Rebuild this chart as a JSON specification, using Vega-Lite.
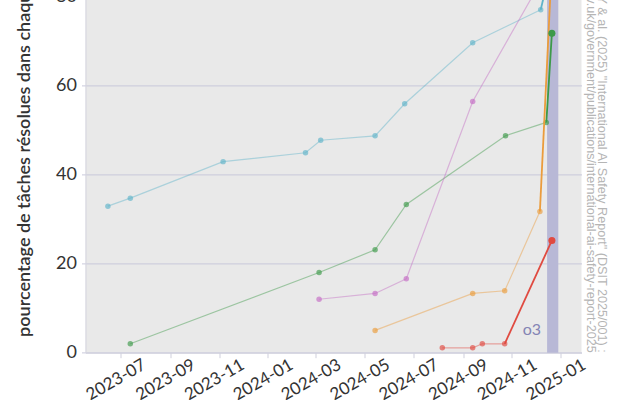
{
  "$schema": "https://vega.github.io/schema/vega-lite/v6.json",
  "width": 496,
  "height": 356.3,
  "autosize": {"type": "none"},
  "padding": {"left": 85.5, "top": -3.6, "right": 58.5, "bottom": 47.3},
  "background": "white",
  "title": {
    "text": [
      "Source : BENGIO Y & al. (2025) \"International AI Safety Report\" (DSIT 2025/001) :",
      "https://www.gov.uk/government/publications/international-ai-safety-report-2025"
    ],
    "orient": "right",
    "anchor": "end",
    "frame": "group",
    "offset": -4,
    "font": "Liberation Sans",
    "fontSize": 12.6,
    "fontWeight": "normal",
    "color": "#b5b5b5",
    "lineHeight": 11.5
  },
  "datasets": {
    "band": [{"debut": "2024-12-15", "fin": "2024-12-29"}],
    "scores": [
      {"benchmark": "GPQA Diamond", "date": "2023-06-15", "score": 32.9},
      {"benchmark": "GPQA Diamond", "date": "2023-07-13", "score": 34.7},
      {"benchmark": "GPQA Diamond", "date": "2023-11-06", "score": 42.9},
      {"benchmark": "GPQA Diamond", "date": "2024-02-17", "score": 44.9},
      {"benchmark": "GPQA Diamond", "date": "2024-03-07", "score": 47.7},
      {"benchmark": "GPQA Diamond", "date": "2024-05-14", "score": 48.7},
      {"benchmark": "GPQA Diamond", "date": "2024-06-20", "score": 55.9},
      {"benchmark": "GPQA Diamond", "date": "2024-09-13", "score": 69.6},
      {"benchmark": "GPQA Diamond", "date": "2024-12-07", "score": 77.0},
      {"benchmark": "SWE-bench Verified", "date": "2023-07-13", "score": 2.0},
      {"benchmark": "SWE-bench Verified", "date": "2024-03-05", "score": 18.0},
      {"benchmark": "SWE-bench Verified", "date": "2024-05-14", "score": 23.1},
      {"benchmark": "SWE-bench Verified", "date": "2024-06-22", "score": 33.3},
      {"benchmark": "SWE-bench Verified", "date": "2024-10-24", "score": 48.7},
      {"benchmark": "SWE-bench Verified", "date": "2024-12-14", "score": 51.7},
      {"benchmark": "AIME 2024", "date": "2024-03-05", "score": 12.0},
      {"benchmark": "AIME 2024", "date": "2024-05-14", "score": 13.3},
      {"benchmark": "AIME 2024", "date": "2024-06-22", "score": 16.6},
      {"benchmark": "AIME 2024", "date": "2024-09-13", "score": 56.4},
      {"benchmark": "AIME 2024", "date": "2024-12-07", "score": 83.3},
      {"benchmark": "ARC-AGI", "date": "2024-05-14", "score": 5.0},
      {"benchmark": "ARC-AGI", "date": "2024-09-13", "score": 13.3},
      {"benchmark": "ARC-AGI", "date": "2024-10-23", "score": 13.9},
      {"benchmark": "ARC-AGI", "date": "2024-12-06", "score": 31.7},
      {"benchmark": "FrontierMath", "date": "2024-08-06", "score": 1.1},
      {"benchmark": "FrontierMath", "date": "2024-09-13", "score": 1.1},
      {"benchmark": "FrontierMath", "date": "2024-09-25", "score": 2.0},
      {"benchmark": "FrontierMath", "date": "2024-10-23", "score": 2.0}
    ],
    "final": [
      {"benchmark": "GPQA Diamond", "modele": "précédent", "date": "2024-12-07", "score": 77.0},
      {"benchmark": "GPQA Diamond", "modele": "o3", "date": "2024-12-21", "score": 87.7},
      {"benchmark": "SWE-bench Verified", "modele": "précédent", "date": "2024-12-14", "score": 51.7},
      {"benchmark": "SWE-bench Verified", "modele": "o3", "date": "2024-12-21", "score": 71.7},
      {"benchmark": "AIME 2024", "modele": "précédent", "date": "2024-12-07", "score": 83.3},
      {"benchmark": "AIME 2024", "modele": "o3", "date": "2024-12-21", "score": 96.7},
      {"benchmark": "ARC-AGI", "modele": "précédent", "date": "2024-12-06", "score": 31.7},
      {"benchmark": "ARC-AGI", "modele": "o3", "date": "2024-12-21", "score": 87.5},
      {"benchmark": "FrontierMath", "modele": "précédent", "date": "2024-10-23", "score": 2.0},
      {"benchmark": "FrontierMath", "modele": "o3", "date": "2024-12-21", "score": 25.2}
    ],
    "annotation": [{"label": "o3", "date": "2024-12-15", "score": 4.0}]
  },
  "layer": [
    {
      "data": {"name": "band"},
      "mark": {"type": "rect", "color": "#b8b8d6"},
      "encoding": {
        "x": {
          "field": "debut",
          "type": "temporal",
          "title": null,
          "scale": {"domain": [{"year": 2023, "month": 5, "date": 18}, {"year": 2025, "month": 1, "date": 27}]},
          "axis": {
            "format": "%Y-%m",
            "tickCount": {"interval": "month", "step": 2},
            "grid": false,
            "labelAngle": -30,
            "labelAlign": "center",
            "labelBaseline": "top",
            "labelPadding": 15,
            "labelOffset": -9,
            "labelFontSize": 17,
            "labelColor": "#333333",
            "labelOverlap": false,
            "labelFlush": false,
            "tickColor": "#cfcfdc",
            "tickSize": 5,
            "domainColor": "#cfcfdc"
          }
        },
        "x2": {"field": "fin"}
      }
    },
    {
      "data": {"name": "scores"},
      "mark": {"type": "line", "strokeWidth": 1.2, "opacity": 0.45},
      "encoding": {
        "x": {"field": "date", "type": "temporal", "title": null},
        "y": {
          "field": "score",
          "type": "quantitative",
          "scale": {"domain": [0, 80], "nice": false},
          "axis": {
            "values": [0, 20, 40, 60, 80],
            "title": "pourcentage de tâches résolues dans chaque benchmark (%)",
            "titleFontSize": 18,
            "titleFontWeight": 600,
            "titleColor": "#333333",
            "titleAngle": 270,
            "titleAlign": "left",
            "titleBaseline": "middle",
            "titleX": -61,
            "titleY": 340,
            "gridColor": "#c9c9db",
            "tickColor": "#c9c9db",
            "tickSize": 4,
            "domainColor": "#d5d5e0",
            "labelFontSize": 18,
            "labelColor": "#333333",
            "labelPadding": 5,
            "labelFlush": false
          }
        },
        "color": {
          "field": "benchmark",
          "type": "nominal",
          "legend": null,
          "scale": {
            "domain": ["GPQA Diamond", "SWE-bench Verified", "AIME 2024", "ARC-AGI", "FrontierMath"],
            "range": ["#5fb3c9", "#3d9a4a", "#c46cc4", "#eb9c3c", "#e04a40"]
          }
        }
      }
    },
    {
      "data": {"name": "scores"},
      "mark": {"type": "point", "filled": true, "size": 30, "opacity": 0.65},
      "encoding": {
        "x": {"field": "date", "type": "temporal", "title": null},
        "y": {"field": "score", "type": "quantitative"},
        "color": {"field": "benchmark", "type": "nominal", "legend": null}
      }
    },
    {
      "data": {"name": "final"},
      "mark": {"type": "line", "strokeWidth": 1.8},
      "encoding": {
        "x": {"field": "date", "type": "temporal", "title": null},
        "y": {"field": "score", "type": "quantitative"},
        "color": {"field": "benchmark", "type": "nominal", "legend": null}
      }
    },
    {
      "data": {"name": "final"},
      "transform": [{"filter": "datum.modele == 'o3'"}],
      "mark": {"type": "point", "filled": true, "size": 50, "opacity": 1},
      "encoding": {
        "x": {"field": "date", "type": "temporal", "title": null},
        "y": {"field": "score", "type": "quantitative"},
        "color": {"field": "benchmark", "type": "nominal", "legend": null}
      }
    },
    {
      "data": {"name": "annotation"},
      "mark": {"type": "text", "align": "right", "baseline": "alphabetic", "dx": -6, "fontSize": 16, "color": "#8484b4"},
      "encoding": {
        "x": {"field": "date", "type": "temporal", "title": null},
        "y": {"field": "score", "type": "quantitative"},
        "text": {"field": "label"}
      }
    }
  ],
  "config": {
    "font": "Lato",
    "view": {"fill": "#e9e9e9", "stroke": null}
  }
}
